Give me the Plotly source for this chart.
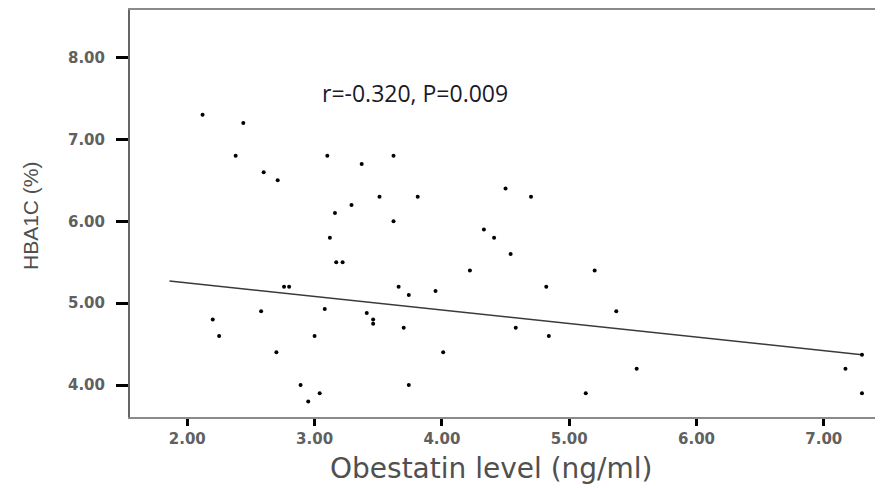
import plotly.graph_objects as go

# Obestatin (ng/ml) vs HBA1C (%)
obestatin = [2.12, 2.44, 2.38, 2.60, 2.71, 3.10, 3.37, 3.62, 4.50, 4.70,
             3.51, 3.81, 3.29, 3.16, 3.62, 3.12, 4.33, 4.41, 3.17, 3.22,
             4.54, 4.22, 2.76, 2.80, 3.66, 3.74, 3.95, 4.82, 3.08, 3.41,
             3.46, 3.46, 3.70, 4.58, 3.00, 4.84, 2.70, 4.01, 2.89, 3.74,
             3.04, 2.95, 2.20, 2.25, 2.58, 5.20, 5.37, 5.53, 5.13, 7.17,
             7.30, 7.30]
hba1c = [7.30, 7.20, 6.80, 6.60, 6.50, 6.80, 6.70, 6.80, 6.40, 6.30,
         6.30, 6.30, 6.20, 6.10, 6.00, 5.80, 5.90, 5.80, 5.50, 5.50,
         5.60, 5.40, 5.20, 5.20, 5.20, 5.10, 5.15, 5.20, 4.93, 4.88,
         4.80, 4.75, 4.70, 4.70, 4.60, 4.60, 4.40, 4.40, 4.00, 4.00,
         3.90, 3.80, 4.80, 4.60, 4.90, 5.40, 4.90, 4.20, 3.90, 4.20,
         3.90, 4.37]

# fit line end points
fit_x = [1.86, 7.30]
fit_y = [5.27, 4.37]

x_ticks = [2, 3, 4, 5, 6, 7]
y_ticks = [4, 5, 6, 7, 8]
stat_text = "r=-0.320, P=0.009"

fig = go.Figure()
fig.add_trace(go.Scatter(x=fit_x, y=fit_y, mode="lines",
                         line=dict(color="#3a3a3a", width=1.5), hoverinfo="skip"))
fig.add_trace(go.Scatter(x=obestatin, y=hba1c, mode="markers",
                         marker=dict(color="black", size=4, symbol="circle")))

tickfont = dict(family="DejaVu Sans", size=15, color="#606060", weight="bold")
fig.update_xaxes(range=[1.55, 7.465], tickvals=x_ticks,
                 ticktext=[f"{v:.2f}" for v in x_ticks],
                 showgrid=False, zeroline=False, showline=True, mirror=True,
                 linecolor="#8a8a8a", linewidth=2,
                 ticks="outside", ticklen=7, tickwidth=3, tickcolor="black",
                 tickfont=tickfont)
fig.update_yaxes(range=[3.61, 8.58], tickvals=y_ticks,
                 ticktext=[f"{v:.2f}" for v in y_ticks],
                 showgrid=False, zeroline=False, showline=True,
                 linecolor="#666666", linewidth=2,
                 ticks="outside", ticklen=12, tickwidth=3, tickcolor="black",
                 ticklabelstandoff=8, tickfont=tickfont)

# annotation positions given in page pixels of the reference
fig.add_annotation(x=415, y=93, text=stat_text, showarrow=False,
                   font=dict(family="Open Sans", size=23, color="#1a1a2a"))
fig.add_annotation(text="Obestatin level (ng/ml)", x=491, y=468, showarrow=False,
                   font=dict(family="DejaVu Sans", size=28, color="#505050"))
fig.add_annotation(text="HBA1C (%)", x=30, y=216, showarrow=False, textangle=-90,
                   font=dict(family="Liberation Sans", size=21, color="#505050"))

# page has an 8px body margin, so the figure starts at (8, 8)
off = 8
W, H = 883 - off, 488 - off
ml, mr, mt, mb = 130 - off, 0, 10 - off, 71
for ann in fig.layout.annotations:
    px_x, px_y = ann.x - off, ann.y - off
    ann.xref = "paper"
    ann.yref = "paper"
    ann.x = (px_x - ml) / (W - ml - mr)
    ann.y = 1 - (px_y - mt) / (H - mt - mb)
    ann.xanchor = "center"
    ann.yanchor = "middle"

fig.update_layout(width=W, height=H, showlegend=False,
                  margin=dict(l=ml, r=mr, t=mt, b=mb),
                  plot_bgcolor="white", paper_bgcolor="white")

fig.write_html("out.html")
